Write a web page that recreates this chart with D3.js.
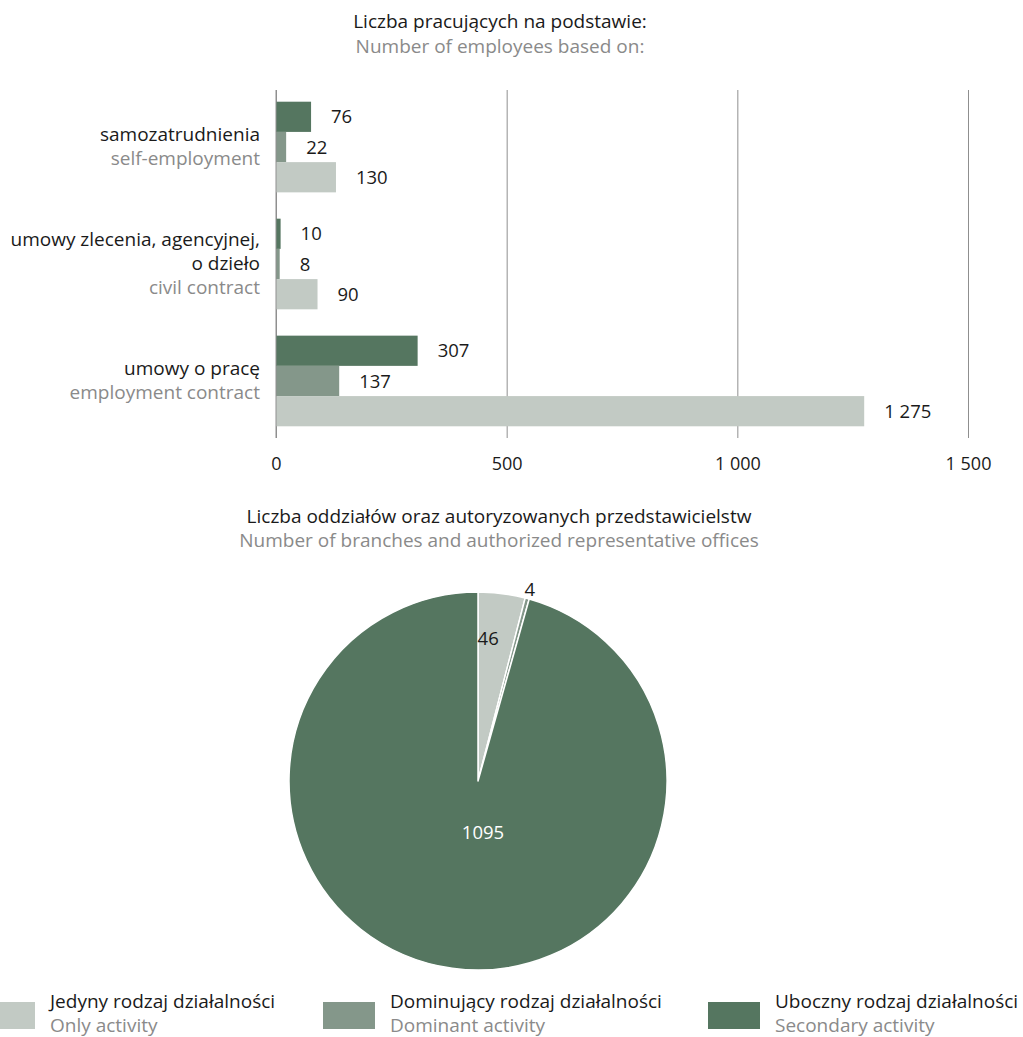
<!DOCTYPE html>
<html>
<head>
<meta charset="utf-8">
<script src="https://cdn.jsdelivr.net/npm/d3@7"></script>
<style>
  html, body { margin: 0; padding: 0; background: #fff; }
  svg { display: block; font-family: "Open Sans", "Noto Sans", sans-serif; }
</style>
</head>
<body>
<svg id="chart" width="1023" height="1037"></svg>
<script>
// Employment by contract type (bar chart)
const contractTypes = ["samozatrudnienia", "umowy zlecenia", "umowy o pracę"];
const contractLabelsPl = [["samozatrudnienia"], ["umowy zlecenia, agencyjnej,", "o dzieło"], ["umowy o pracę"]];
const contractLabelsEn = ["self-employment", "civil contract", "employment contract"];
const activityKeys = ["secondary", "dominant", "only"];
const secondaryValues = [76, 10, 307];
const dominantValues = [22, 8, 137];
const onlyValues = [130, 90, 1275];
const xTicks = [0, 500, 1000, 1500];

// Branches and representative offices (pie chart)
const pieKeys = ["only", "dominant", "secondary"];
const pieValues = [46, 4, 1095];

// Legend
const legendKeys = ["only", "dominant", "secondary"];
const legendPl = ["Jedyny rodzaj działalności", "Dominujący rodzaj działalności", "Uboczny rodzaj działalności"];
const legendEn = ["Only activity", "Dominant activity", "Secondary activity"];

const colors = { only: "#c2cac4", dominant: "#84978a", secondary: "#557660" };
const textDark = "#1a1a1a", textGrey = "#8a8a8a", gridColor = "#8f8f8f";
const fmt = v => d3.format(",")(v).replace(/,/g, " ");

const svg = d3.select("#chart");

// Two-line heading: Polish in dark, English in grey
function heading(xPos, yPos, pl, en, gap) {
  const t = svg.append("text").attr("x", xPos).attr("y", yPos).attr("text-anchor", "middle")
    .attr("font-size", 19);
  t.append("tspan").attr("x", xPos).attr("fill", textDark).text(pl);
  t.append("tspan").attr("x", xPos).attr("dy", gap).attr("fill", textGrey).text(en);
}

// ---------- Bar chart ----------
heading(500, 28, "Liczba pracujących na podstawie:", "Number of employees based on:", 25);

const barTop = 90, barBottom = 438;
const x = d3.scaleLinear().domain([0, 1500]).range([276, 968]);
const y = d3.scaleBand().domain(contractTypes).range([barTop, barBottom])
  .paddingInner(0.225).paddingOuter(0.1);
const ySub = d3.scaleBand().domain(activityKeys).range([0, y.bandwidth()]);

const seriesByKey = { secondary: secondaryValues, dominant: dominantValues, only: onlyValues };

// vertical grid lines with tick labels underneath
const xAxis = d3.axisBottom(x).tickValues(xTicks).tickSize(-(barBottom - barTop)).tickFormat(fmt);
const gx = svg.append("g").attr("transform", `translate(0,${barBottom})`).call(xAxis);
gx.select(".domain").remove();
gx.selectAll(".tick line").attr("stroke", gridColor).attr("stroke-width", 1);
gx.selectAll(".tick text").attr("y", 32).attr("dy", 0).attr("font-size", 18)
  .attr("fill", textDark).attr("font-family", "'Open Sans', sans-serif");

const groups = svg.append("g").selectAll("g").data(contractTypes).join("g")
  .attr("transform", d => `translate(0,${y(d)})`);

groups.each(function (cat, i) {
  const g = d3.select(this);
  activityKeys.forEach(k => {
    const v = seriesByKey[k][i];
    g.append("rect").attr("x", x(0)).attr("y", ySub(k))
      .attr("width", x(v) - x(0)).attr("height", ySub.bandwidth())
      .attr("fill", colors[k]);
    g.append("text").attr("x", x(v) + 20).attr("y", ySub(k) + ySub.bandwidth() / 2)
      .attr("dy", "0.36em").attr("font-size", 18.5).attr("fill", textDark).text(fmt(v));
  });
  // category label: Polish line(s) then English line
  const lines = contractLabelsPl[i].map(t => ({ t, c: textDark })).concat([{ t: contractLabelsEn[i], c: textGrey }]);
  const first = y.bandwidth() / 2 + 6 - (lines.length - 1) / 2 * 24;
  const lt = g.append("text").attr("y", first).attr("text-anchor", "end").attr("font-size", 19);
  lines.forEach((ln, j) => {
    lt.append("tspan").attr("x", 260).attr("dy", j === 0 ? 0 : 24).attr("fill", ln.c).text(ln.t);
  });
});

// zero line on top of bars
svg.append("line").attr("x1", x(0)).attr("x2", x(0)).attr("y1", barTop).attr("y2", barBottom)
  .attr("stroke", gridColor).attr("stroke-width", 1);

// ---------- Pie chart ----------
heading(499, 523, "Liczba oddziałów oraz autoryzowanych przedstawicielstw",
  "Number of branches and authorized representative offices", 24);

const cx = 478, cy = 781, r = 189;
const pieData = d3.pie().sort(null).value(d => d.v)(pieKeys.map((k, i) => ({ k, v: pieValues[i] })));
const arc = d3.arc().innerRadius(0).outerRadius(r);
const pg = svg.append("g").attr("transform", `translate(${cx},${cy})`);
pg.selectAll("path").data(pieData).join("path")
  .attr("d", arc).attr("fill", d => colors[d.data.k])
  .attr("stroke", "#fff").attr("stroke-width", 1.5).attr("stroke-linejoin", "round");

const labelArc = {
  only: d3.arc().innerRadius(144).outerRadius(144),
  dominant: d3.arc().innerRadius(199).outerRadius(199)
};
pieData.forEach(d => {
  let pos, fill = textDark;
  if (d.data.k === "secondary") { pos = [5, 51]; fill = "#fff"; }
  else pos = labelArc[d.data.k].centroid(d);
  if (d.data.k === "only") pos[0] -= 8;
  pg.append("text").attr("x", pos[0]).attr("y", pos[1]).attr("dy", "0.36em")
    .attr("text-anchor", "middle").attr("font-size", 18.5).attr("fill", fill).text(d.data.v);
});

// ---------- Legend ----------
const legendX = [-17, 323, 708];
const lg = svg.append("g").selectAll("g").data(legendKeys).join("g")
  .attr("transform", (d, i) => `translate(${legendX[i]},1002)`);
lg.append("rect").attr("width", 52).attr("height", 27).attr("fill", d => colors[d]);
const lt = lg.append("text").attr("y", 6).attr("font-size", 19);
lt.append("tspan").attr("x", 67).attr("fill", textDark).text((d, i) => legendPl[i]);
lt.append("tspan").attr("x", 67).attr("dy", 23.5).attr("fill", textGrey).text((d, i) => legendEn[i]);
</script>
</body>
</html>
